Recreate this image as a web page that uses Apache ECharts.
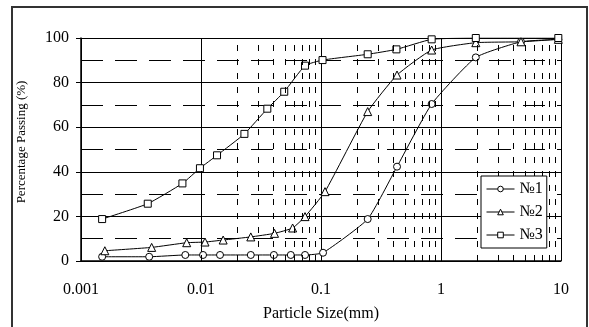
<!DOCTYPE html>
<html>
<head>
<meta charset="utf-8">
<script src="https://cdn.jsdelivr.net/npm/echarts@6/dist/echarts.min.js"></script>
<style>
  html, body { margin: 0; padding: 0; background: #fff; }
  #chart { width: 589px; height: 327px; }
</style>
</head>
<body>
<div id="chart"></div>
<script>
// particle size (mm) / percentage passing (%)
const sizes1 = [0.0015, 0.0037, 0.0074, 0.0104, 0.0144, 0.026, 0.0405, 0.056, 0.0736, 0.104, 0.245, 0.43, 0.836, 1.95, 4.64, 9.5];
const pass1  = [1.9, 1.9, 2.7, 2.7, 2.7, 2.7, 2.7, 2.7, 2.7, 3.7, 18.8, 42.3, 70.4, 91.3, 98.3, 99.4];

const sizes2 = [0.00158, 0.00388, 0.0076, 0.0108, 0.0153, 0.026, 0.041, 0.058, 0.0736, 0.108, 0.245, 0.43, 0.836, 1.95, 4.64, 9.5];
const pass2  = [4.6, 6.1, 8.2, 8.5, 9.4, 10.8, 12.4, 14.8, 19.9, 31.1, 67.0, 83.4, 94.6, 97.9, 98.3, 99.4];

const sizes3 = [0.0015, 0.0036, 0.0070, 0.0098, 0.0136, 0.023, 0.0357, 0.0494, 0.0736, 0.103, 0.245, 0.425, 0.836, 1.95, 9.5];
const pass3  = [18.8, 25.7, 34.8, 41.6, 47.4, 57.0, 68.3, 75.9, 87.6, 90.1, 92.7, 94.9, 99.4, 100, 100];

const seriesNames = ['№1', '№2', '№3'];
const xTickLabels = ['0.001', '0.01', '0.1', '1', '10'];

// minor log gridlines (2..9 in each decade)
const minorX = [];
[0.001, 0.01, 0.1, 1].forEach(d => { for (let k = 2; k <= 9; k++) minorX.push(+(d * k).toPrecision(3)); });

const serif = 'Liberation Serif, Times New Roman, serif';
const chart = echarts.init(document.getElementById('chart'));

function makeSeries(name, xs, ys, symbol, size, extra) {
  return Object.assign({
    name: name,
    type: 'line',
    data: xs.map((x, i) => [x, ys[i]]),
    smooth: 0.15,
    symbol: symbol,
    symbolSize: size,
    lineStyle: { color: '#000', width: 1 },
    itemStyle: { color: '#fff', borderColor: '#000', borderWidth: 1 },
    emphasis: { disabled: true }
  }, extra || {});
}

chart.setOption({
  animation: false,
  textStyle: { fontFamily: serif },
  grid: { left: 81, top: 38, right: 28, bottom: 66, outerBoundsMode: 'none' },
  graphic: [{
    type: 'rect',
    shape: { x: 12, y: 7, width: 575, height: 321 },
    style: { fill: 'none', stroke: '#333', lineWidth: 2 },
    silent: true
  }],
  legend: {
    data: seriesNames,
    z: 20,
    orient: 'vertical',
    left: 481,
    top: 176,
    padding: [5, 4, 5, 5],
    itemGap: 7,
    itemWidth: 28,
    itemHeight: 7,
    borderColor: '#000',
    borderWidth: 1,
    backgroundColor: '#fff',
    lineStyle: { width: 1, color: '#000' },
    itemStyle: { color: '#fff', borderColor: '#000', borderWidth: 1 },
    textStyle: { fontFamily: serif, fontSize: 16, color: '#000', padding: [2, 0, 0, 0] }
  },
  xAxis: {
    type: 'log',
    logBase: 10,
    min: 0.001,
    max: 10,
    name: 'Particle Size(mm)',
    nameLocation: 'middle',
    nameGap: 45,
    nameTextStyle: { fontFamily: serif, fontSize: 16, color: '#000' },
    axisLine: { lineStyle: { color: '#000', width: 1.5 } },
    axisTick: { show: false },
    axisLabel: {
      fontFamily: serif, fontSize: 16, color: '#000', margin: 21,
      formatter: v => {
        const s = xTickLabels.find(t => Math.abs(parseFloat(t) - v) / v < 1e-6);
        return s || '';
      }
    },
    splitLine: { show: true, lineStyle: { color: '#000', width: 1 } }
  },
  yAxis: {
    type: 'value',
    min: 0,
    max: 100,
    interval: 20,
    name: 'Percentage Passing (%)',
    nameLocation: 'middle',
    nameGap: 53,
    nameTextStyle: { fontFamily: serif, fontSize: 13, color: '#000', padding: [0, 0, 0, 15] },
    axisLine: { show: true, lineStyle: { color: '#000', width: 1.5 } },
    axisTick: { show: true, inside: false, length: 5, lineStyle: { color: '#000' } },
    axisLabel: { fontFamily: serif, fontSize: 16, color: '#000', margin: 12 },
    splitLine: { show: true, lineStyle: { color: '#000', width: 1 } },
    minorTick: { show: false, splitNumber: 2 },
    minorSplitLine: { show: true, lineStyle: { color: '#000', width: 1, type: [22, 12] } }
  },
  series: [
    makeSeries(seriesNames[0], sizes1, pass1, 'circle', 7, {
      markLine: {
        silent: true,
        symbol: 'none',
        label: { show: false },
        lineStyle: { color: '#000', width: 1, type: [6, 8] },
        data: minorX.map(x => ({ xAxis: x }))
      }
    }),
    makeSeries(seriesNames[1], sizes2, pass2, 'triangle', 8),
    makeSeries(seriesNames[2], sizes3, pass3, 'rect', 7)
  ]
});
</script>
</body>
</html>
